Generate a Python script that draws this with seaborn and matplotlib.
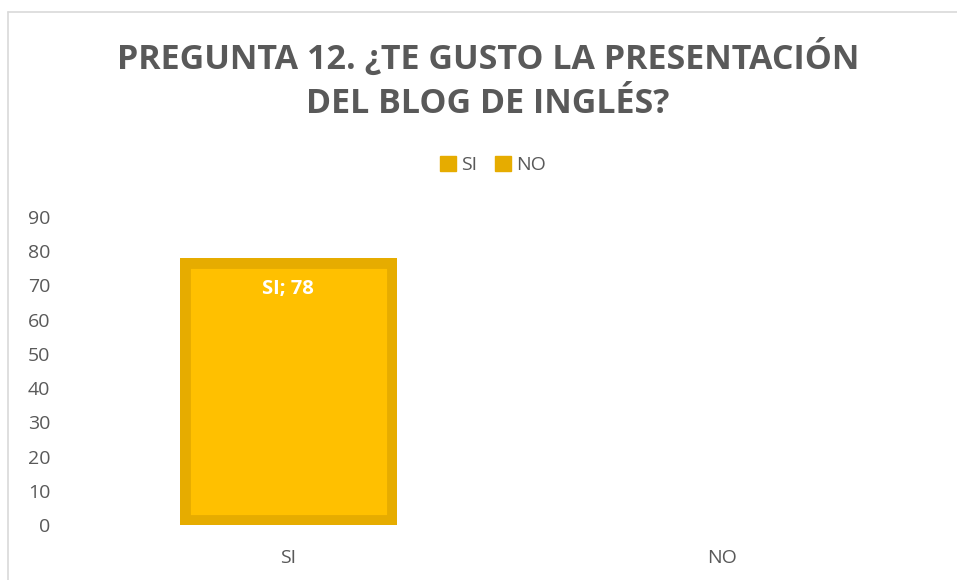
import numpy as np
import pandas as pd
import seaborn as sns
import matplotlib.pyplot as plt
from matplotlib.patches import Patch
from matplotlib.lines import Line2D

categories = ['SI', 'NO']
values = [78, 0]
title = 'PREGUNTA 12. ¿TE GUSTO LA PRESENTACIÓN\nDEL BLOG DE INGLÉS?'
yticks = list(range(0, 100, 10))

fill_color = '#FFC000'
edge_color = '#E6AC00'
text_color = '#595959'

sns.set_theme(style='white')
plt.rcParams['font.family'] = ['Open Sans', 'DejaVu Sans']

df = pd.DataFrame({'respuesta': categories, 'cantidad': values})

fig = plt.figure(figsize=(9.57, 5.8), dpi=100)
ax = fig.add_axes([71 / 957, 1 - 525 / 580, 868 / 957, 308 / 580])

sns.barplot(data=df, x='respuesta', y='cantidad', hue='respuesta',
            palette=[fill_color, fill_color], width=0.5, saturation=1,
            edgecolor=edge_color, linewidth=15, legend=False, ax=ax)

# border drawn inside the bar, no mark for empty bars
for p in ax.patches:
    if p.get_height() == 0:
        p.set_linewidth(0)
    else:
        p.set_clip_path(p)

ax.set_ylim(0, 90)
ax.set_yticks(yticks)
ax.set_xlim(-0.5, 1.5)
ax.set_xlabel('')
ax.set_ylabel('')
sns.despine(ax=ax, left=True, bottom=True)
ax.tick_params(axis='both', length=0, labelsize=14, colors=text_color)
ax.tick_params(axis='y', pad=15)
ax.tick_params(axis='x', pad=17)

for i, (cat, val) in enumerate(zip(categories, values)):
    if val > 0:
        ax.text(i, val - 6.0, f'{cat}; {val}', ha='center', va='top',
                color='white', fontsize=14.5, fontweight='bold')

fig.text(488 / 957, 0.862, title, ha='center', va='center', fontsize=24.5,
         fontweight='bold', color=text_color, linespacing=1.4)

handles = [Patch(facecolor=edge_color, edgecolor=edge_color, label=c) for c in categories]
fig.legend(handles=handles, loc='center', bbox_to_anchor=(493 / 957, 1 - 165 / 580),
           ncol=2, frameon=False, fontsize=14, handlelength=0.85, handleheight=0.85,
           handletextpad=0.25, columnspacing=0.9, labelcolor=text_color)

# chart area border
fig.add_artist(Line2D([8 / 957, 8 / 957], [0, 1 - 12 / 580], color='#D9D9D9', lw=1.2))
fig.add_artist(Line2D([8 / 957, 1], [1 - 12 / 580, 1 - 12 / 580], color='#D9D9D9', lw=1.2))

fig.savefig('out.png', dpi=100)
